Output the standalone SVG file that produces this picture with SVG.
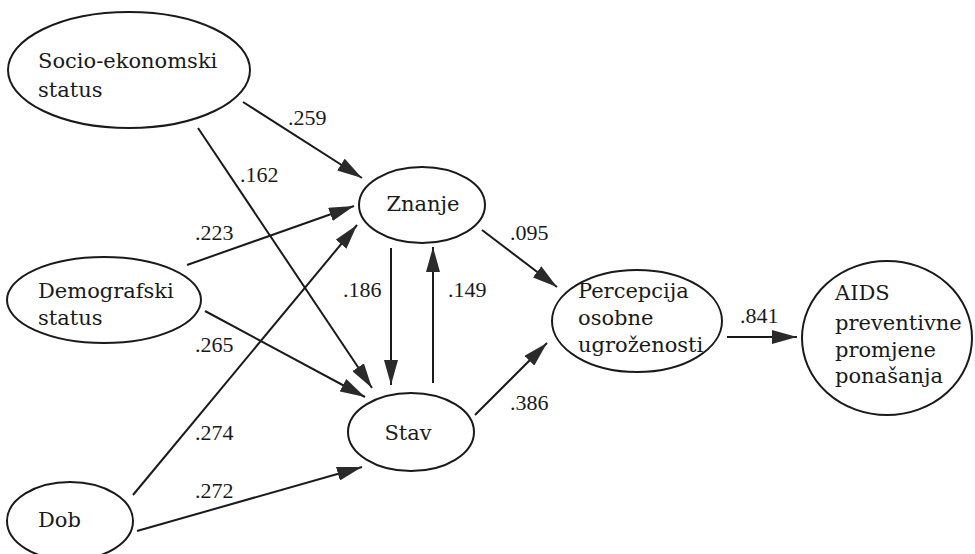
<svg xmlns="http://www.w3.org/2000/svg" width="975" height="554" viewBox="0 0 975 554">
<style>
.node ellipse{fill:#fff;stroke:#1a1a1a;stroke-width:2}
.node text{font-family:"DejaVu Serif",serif;font-size:21px;fill:#1a1a1a}
#edges line{stroke:#1a1a1a;stroke-width:2;marker-end:url(#ah)}
.lbl{font-family:"Liberation Serif",serif;font-size:22px;fill:#1a1a1a}
</style>
<defs>
<marker id="ah" markerUnits="userSpaceOnUse" viewBox="0 0 25 14" refX="25" refY="7" markerWidth="25" markerHeight="14" orient="auto">
<path d="M0,0 L25,7 L0,14 z" fill="#2a2a2a"/>
</marker>
</defs>
<rect width="975" height="554" fill="#fff"/>
<g id="edges">
<line x1="243" y1="102" x2="362" y2="178"/>
<line x1="198" y1="128" x2="372" y2="388"/>
<line x1="187" y1="265" x2="354" y2="206"/>
<line x1="205" y1="311" x2="365" y2="397"/>
<line x1="133" y1="495" x2="357" y2="225"/>
<line x1="137" y1="531" x2="362" y2="467"/>
<line x1="391" y1="248" x2="391" y2="385"/>
<line x1="433" y1="383" x2="433" y2="247"/>
<line x1="482" y1="230" x2="557" y2="287"/>
<line x1="475" y1="415" x2="547" y2="343"/>
<line x1="727" y1="337" x2="797" y2="337"/>
</g>
<g id="labels">
<text class="lbl" x="288" y="125">.259</text>
<text class="lbl" x="240" y="182">.162</text>
<text class="lbl" x="195" y="240">.223</text>
<text class="lbl" x="195" y="352">.265</text>
<text class="lbl" x="195" y="440">.274</text>
<text class="lbl" x="195" y="498">.272</text>
<text class="lbl" x="343" y="297">.186</text>
<text class="lbl" x="448" y="297">.149</text>
<text class="lbl" x="510" y="240">.095</text>
<text class="lbl" x="510" y="410">.386</text>
<text class="lbl" x="740" y="323">.841</text>
</g>
<g id="socio" class="node">
<ellipse cx="129" cy="70" rx="121" ry="58"/>
<text x="38" y="68">Socio-ekonomski</text>
<text x="38" y="97">status</text>
</g>
<g id="demografski" class="node">
<ellipse cx="104" cy="300" rx="97" ry="43"/>
<text x="38" y="298">Demografski</text>
<text x="38" y="325">status</text>
</g>
<g id="dob" class="node">
<ellipse cx="70" cy="521" rx="63" ry="39"/>
<text x="38" y="527">Dob</text>
</g>
<g id="znanje" class="node">
<ellipse cx="422" cy="205" rx="63" ry="38"/>
<text x="423" y="211" text-anchor="middle">Znanje</text>
</g>
<g id="stav" class="node">
<ellipse cx="411" cy="432" rx="63" ry="39"/>
<text x="408" y="440" text-anchor="middle">Stav</text>
</g>
<g id="percepcija" class="node">
<ellipse cx="637" cy="321" rx="85" ry="51"/>
<text x="578" y="298">Percepcija</text>
<text x="578" y="325">osobne</text>
<text x="578" y="352">ugroženosti</text>
</g>
<g id="aids" class="node">
<ellipse cx="887" cy="338" rx="85" ry="77"/>
<text x="835" y="300">AIDS</text>
<text x="835" y="330">preventivne</text>
<text x="835" y="357">promjene</text>
<text x="835" y="383">ponašanja</text>
</g>
</svg>
